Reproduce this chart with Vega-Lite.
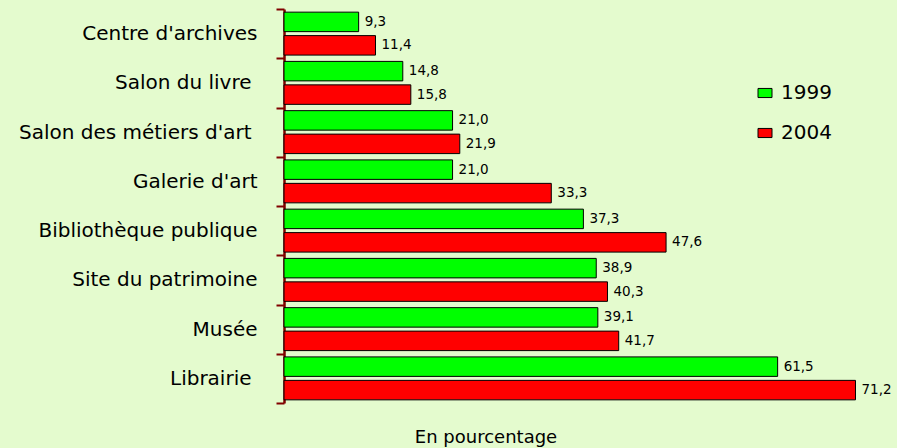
{
  "$schema": "https://vega.github.io/schema/vega-lite/v6.json",
  "width": 602,
  "height": 394,
  "autosize": {"type": "none"},
  "padding": {"left": 284, "top": 9, "right": 11, "bottom": 45},
  "background": "#E4FBCE",
  "config": {
    "view": {"stroke": null},
    "locale": {"number": {"decimal": ",", "thousands": " ", "grouping": [3], "currency": ["", " €"]}}
  },
  "data": {
    "values": [
      {"cat": "Centre d'archives", "year": "1999", "value": 9.3},
      {"cat": "Centre d'archives", "year": "2004", "value": 11.4},
      {"cat": "Salon du livre", "year": "1999", "value": 14.8},
      {"cat": "Salon du livre", "year": "2004", "value": 15.8},
      {"cat": "Salon des métiers d'art", "year": "1999", "value": 21.0},
      {"cat": "Salon des métiers d'art", "year": "2004", "value": 21.9},
      {"cat": "Galerie d'art", "year": "1999", "value": 21.0},
      {"cat": "Galerie d'art", "year": "2004", "value": 33.3},
      {"cat": "Bibliothèque publique", "year": "1999", "value": 37.3},
      {"cat": "Bibliothèque publique", "year": "2004", "value": 47.6},
      {"cat": "Site du patrimoine", "year": "1999", "value": 38.9},
      {"cat": "Site du patrimoine", "year": "2004", "value": 40.3},
      {"cat": "Musée", "year": "1999", "value": 39.1},
      {"cat": "Musée", "year": "2004", "value": 41.7},
      {"cat": "Librairie", "year": "1999", "value": 61.5},
      {"cat": "Librairie", "year": "2004", "value": 71.2}
    ]
  },
  "encoding": {
    "y": {
      "field": "cat",
      "type": "nominal",
      "sort": null,
      "scale": {"paddingInner": 0, "paddingOuter": 0},
      "axis": {
        "title": null,
        "domainColor": "#800000",
        "domainWidth": 2.5,
        "tickColor": "#800000",
        "tickWidth": 2,
        "tickSize": 8,
        "tickBand": "extent",
        "labelPadding": {
          "condition": {"test": "datum.value === 'Salon du livre' || datum.value === 'Librairie' || datum.value === \"Salon des métiers d'art\"", "value": 25},
          "value": 19
        },
        "labelFont": "DejaVu Sans",
        "labelFontSize": 20,
        "labelColor": "#000000",
        "labelLimit": 0
      }
    },
    "yOffset": {
      "field": "year",
      "type": "nominal",
      "scale": {"paddingInner": 0.17, "paddingOuter": 0.134}
    },
    "x": {
      "field": "value",
      "type": "quantitative",
      "scale": {"domain": [0, 75], "nice": false},
      "axis": {
        "domain": false,
        "ticks": false,
        "labels": false,
        "grid": false,
        "title": "En pourcentage",
        "titleFont": "DejaVu Sans",
        "titleFontSize": 18,
        "titleFontWeight": "normal",
        "titleColor": "#000000",
        "titleX": 201.5,
        "titleY": 39,
        "titleAlign": "center",
        "titleBaseline": "alphabetic"
      }
    }
  },
  "layer": [
    {
      "mark": {"type": "bar", "stroke": "#000000", "strokeWidth": 1},
      "encoding": {
        "color": {
          "field": "year",
          "type": "nominal",
          "scale": {"domain": ["1999", "2004"], "range": ["#00FF00", "#FF0000"]},
          "legend": {
            "title": null,
            "orient": "none",
            "legendX": 471,
            "legendY": 74,
            "padding": 0,
            "symbolType": "M-1,-0.65H1V0.65H-1Z",
            "symbolSize": 196,
            "symbolStrokeColor": "#000000",
            "symbolStrokeWidth": 1,
            "labelFont": "DejaVu Sans",
            "labelFontSize": 20,
            "labelColor": "#000000",
            "labelOffset": 6,
            "rowPadding": 20
          }
        }
      }
    },
    {
      "mark": {"type": "text", "align": "left", "baseline": "middle", "dx": 6, "font": "DejaVu Sans", "fontSize": 13.5, "color": "#000000"},
      "encoding": {
        "text": {"field": "value", "type": "quantitative", "format": ".1f"}
      }
    }
  ]
}
